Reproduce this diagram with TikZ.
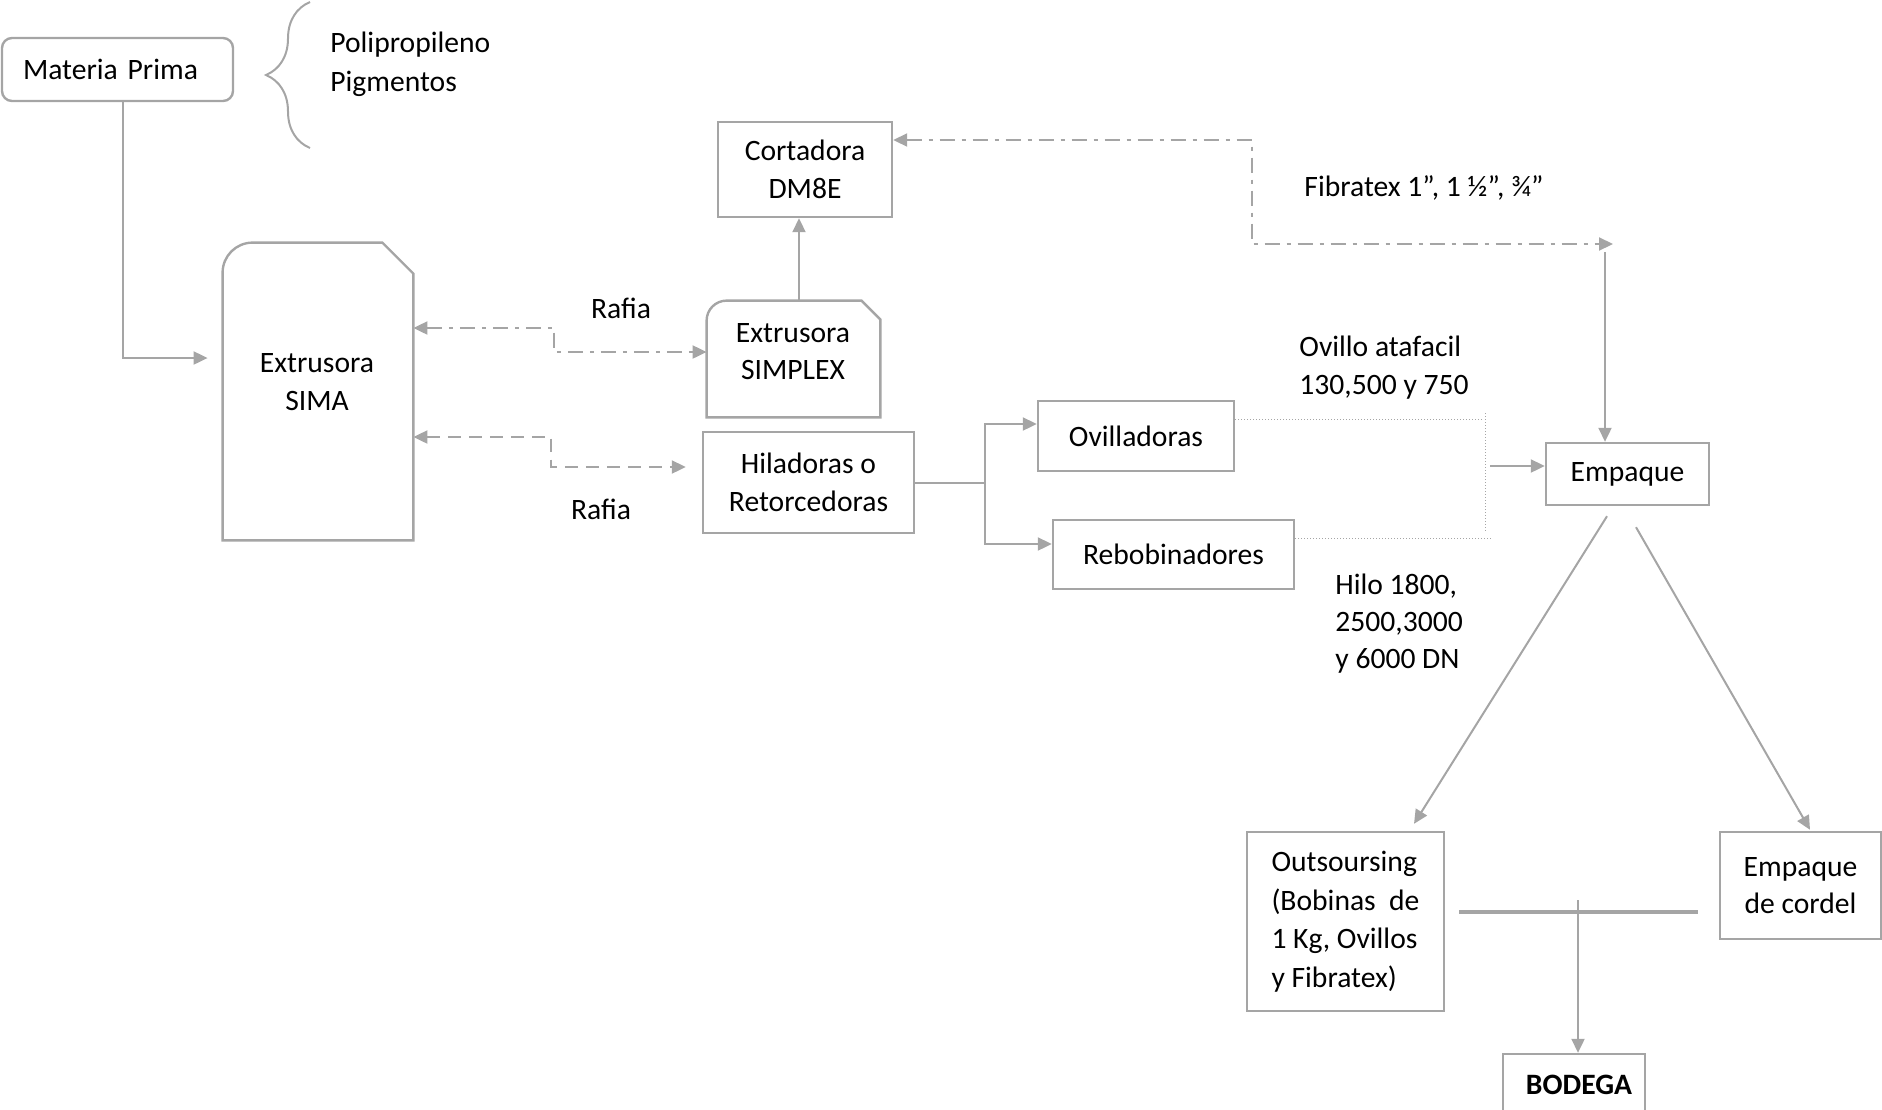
\documentclass[tikz,border=0pt]{standalone}
\usepackage{fontspec}
\setmainfont{Carlito}
\usetikzlibrary{arrows.meta,decorations.pathreplacing,calc}
\definecolor{gris}{RGB}{165,165,165}
\tikzset{
  caja/.style={rectangle, draw=gris, line width=1.2pt, inner sep=0pt, align=center},
  forma/.style={rectangle, inner sep=0pt},
  contorno/.style={draw=gris, line width=1.2pt},
  texto/.style={inner sep=0pt},
  flecha/.style={gris, line width=1pt, -{Triangle[length=7pt,width=6.5pt]}},
  dobleflecha/.style={gris, line width=1pt, {Triangle[length=7pt,width=6.5pt]}-{Triangle[length=7pt,width=6.5pt]}},
  rayapunto/.style={dash pattern=on 7.5pt off 3.5pt on 2pt off 3.5pt},
  rayas/.style={dash pattern=on 6.5pt off 4pt},
  puntos/.style={gris, line width=0.5pt, dash pattern=on 0.5pt off 1pt},
  every node/.style={font=\fontsize{14.8pt}{18.7pt}\selectfont}
}
\begin{document}
\begin{tikzpicture}[x=0.5pt, y=-0.5pt]
\clip (0,0) rectangle (1882,1109);

\node [caja, rounded corners=5pt, align=left, minimum width=115.5pt, minimum height=31.5pt, inner xsep=10.5pt, text width=94.5pt] (matp) at (117.5,69.5) {Materia Prima};
\node [texto, align=left, anchor=west, font=\fontsize{14.8pt}{19.5pt}\selectfont] (mptxt) at (330,64.5) {Polipropileno\\Pigmentos};
\draw [gris, line width=1pt, decorate, decoration={brace, amplitude=22pt}] (310,148) -- (310,2);

\node [forma, minimum width=95pt, minimum height=148.5pt] (sima) at (318,391.5) {};
\draw [contorno] (sima.south west) [rounded corners=15pt] -- (sima.north west) [sharp corners] -- ([xshift=-15.5pt]sima.north east) -- ([yshift=-15.5pt]sima.north east) -- (sima.south east) -- cycle;
\node [texto, align=center] (simatxt) at (317,382) {Extrusora\\SIMA};

\node [caja, minimum width=87pt, minimum height=47.5pt] (cort) at (805,169.5) {Cortadora\\DM8E};

\node [forma, minimum width=86.5pt, minimum height=58pt] (simp) at (793.5,359) {};
\draw [contorno] (simp.south west) [rounded corners=10pt] -- (simp.north west) [sharp corners] -- ([xshift=-9.5pt]simp.north east) -- ([yshift=-9.5pt]simp.north east) -- (simp.south east) -- cycle;
\node [texto, align=center] (simptxt) at (793,351.5) {Extrusora\\SIMPLEX};

\node [caja, minimum width=105.5pt, minimum height=50.5pt] (hila) at (808.5,482.5) {Hiladoras o\\Retorcedoras};
\node [caja, minimum width=98pt, minimum height=35pt] (ovil) at (1136,436) {Ovilladoras};
\node [caja, minimum width=120.5pt, minimum height=34.5pt] (rebo) at (1173.5,554.5) {Rebobinadores};
\node [caja, minimum width=81.5pt, minimum height=31pt] (empq) at (1627.5,474) {Empaque};
\node [caja, align=left, minimum width=98.5pt, minimum height=89.5pt, font=\fontsize{14.8pt}{19.3pt}\selectfont] (outs) at (1345.5,921.5) {Outsoursing\\(Bobinas\ \ de\\1 Kg, Ovillos\\y Fibratex)};
\node [caja, minimum width=80.5pt, minimum height=53.5pt] (cord) at (1800.5,885.5) {Empaque\\de cordel};
\node [caja, minimum width=71pt, minimum height=31pt, font=\fontsize{14.8pt}{18.7pt}\selectfont\bfseries] (bode) at (1574,1085) {\hspace{5pt}BODEGA};

\node [texto] (rafia1) at (621,308) {Rafia};
\node [texto] (rafia2) at (601,509) {Rafia};
\node [texto] (fibra) at (1424,188) {Fibratex 1”, 1 ½”, ¾”};
\node [texto, align=left, anchor=west] (ovtxt) at (1299,367.5) {Ovillo atafacil\\130,500 y 750};
\node [texto, align=left, anchor=west] (hilotxt) at (1335,623.5) {Hilo 1800,\\2500,3000\\y 6000 DN};

\coordinate (fibend) at (1613,244);
\coordinate (fibtop) at (1605,252);
\coordinate (mtop) at (1485,413);
\coordinate (mbot) at (1485,533);
\coordinate (mout) at (1490,466);
\coordinate (bt) at (1578,900);

\draw [flecha, shorten >=7.5pt] ([xshift=2.75pt]matp.south) |- ([yshift=16.75pt]sima.west);
\draw [dobleflecha, rayapunto] ([yshift=31.75pt]sima.east) -- ++(141,0) |- ([yshift=3.5pt]simp.west);
\draw [dobleflecha, rayas, shorten >=8pt] ([yshift=-22.75pt]sima.east) -- ++(138,0) |- ([yshift=7.75pt]hila.west);
\draw [flecha] ([xshift=2.75pt]simp.north) -- ([xshift=2.75pt]simp.north |- cort.south);
\draw [dobleflecha, rayapunto] ([yshift=14.75pt]cort.east) -- ++(359,0) |- (fibend);
\draw [flecha] (fibtop) -- (fibtop |- empq.north);

\draw [flecha] (hila.east) -- ++(70,0) coordinate (split) |- ([yshift=6pt]ovil.west);
\draw [flecha] (split) |- ([yshift=5.25pt]rebo.west);

\draw [puntos] ([yshift=8.5pt]ovil.east) -- ++(249,0);
\draw [puntos] (mtop) -- (mbot);
\draw [puntos] ([yshift=8.25pt]rebo.east) -- ++(198,0);
\draw [flecha] (mout) -- (mout -| empq.west);

\draw [flecha] ([xshift=-10.25pt,yshift=-5pt]empq.south) -- ([xshift=34.25pt,yshift=3.5pt]outs.north);
\draw [flecha] ([xshift=4.25pt,yshift=-10.5pt]empq.south) -- ([xshift=4.75pt,yshift=0.5pt]cord.north);

\draw [gris, line width=1.6pt] ([xshift=7pt,yshift=4.75pt]outs.east) -- ([xshift=-10.5pt,yshift=4.75pt]outs.east -| cord.west);
\draw [flecha] (bt) -- (bt |- bode.north);
\end{tikzpicture}
\end{document}
